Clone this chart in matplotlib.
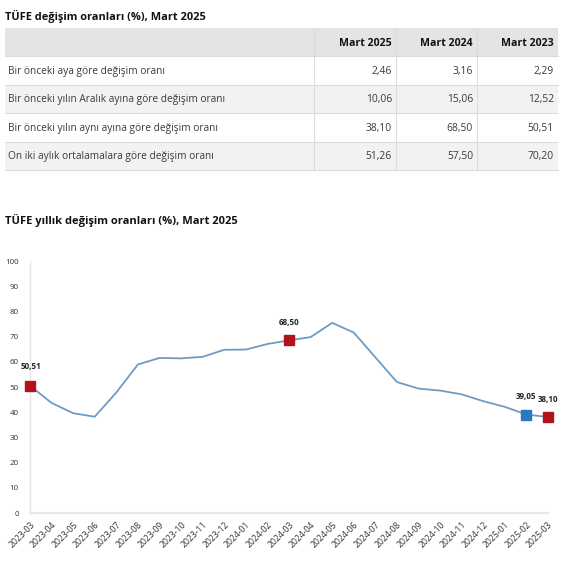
import matplotlib
matplotlib.use("Agg")
import matplotlib.pyplot as plt
from matplotlib.patches import Rectangle

plt.rcParams['font.family'] = ['Open Sans', 'DejaVu Sans']

# ---------------- data ----------------
table_title = "TÜFE değişim oranları (%), Mart 2025"
col_headers = ["Mart 2025", "Mart 2024", "Mart 2023"]
row_labels = [
    "Bir önceki aya göre değişim oranı",
    "Bir önceki yılın Aralık ayına göre değişim oranı",
    "Bir önceki yılın aynı ayına göre değişim oranı",
    "On iki aylık ortalamalara göre değişim oranı",
]
table_values = [
    ["2,46", "3,16", "2,29"],
    ["10,06", "15,06", "12,52"],
    ["38,10", "68,50", "50,51"],
    ["51,26", "57,50", "70,20"],
]

chart_title = "TÜFE yıllık değişim oranları (%), Mart 2025"
months = ["2023-03", "2023-04", "2023-05", "2023-06", "2023-07", "2023-08",
          "2023-09", "2023-10", "2023-11", "2023-12", "2024-01", "2024-02",
          "2024-03", "2024-04", "2024-05", "2024-06", "2024-07", "2024-08",
          "2024-09", "2024-10", "2024-11", "2024-12", "2025-01", "2025-02",
          "2025-03"]
annual = [50.51, 43.68, 39.59, 38.21, 47.83, 58.94, 61.53, 61.36, 61.98,
          64.77, 64.86, 67.07, 68.50, 69.80, 75.45, 71.60, 61.78, 51.97,
          49.38, 48.58, 47.09, 44.38, 42.12, 39.05, 38.10]
red_points = ["2023-03", "2024-03", "2025-03"]
blue_points = ["2025-02"]
y_ticks = [0, 10, 20, 30, 40, 50, 60, 70, 80, 90, 100]

# ---------------- figure ----------------
W = H = 570
fig = plt.figure(figsize=(W / 100, H / 100), dpi=100)
fig.patch.set_facecolor("white")

# overlay axes in pixel coordinates for the table and titles
ov = fig.add_axes([0, 0, 1, 1])
ov.set_xlim(0, W)
ov.set_ylim(H, 0)
ov.axis("off")

ov.text(5, 16, table_title, fontsize=7.9, fontweight="bold", va="center",
        ha="left", color="#111111")

tbl_left, tbl_right = 5, 558
col_edges = [tbl_left, 314, 396, 477, tbl_right]
header_top, header_bot = 28, 56
row_h = 28.5
row_bg = ["#ffffff", "#f2f2f2", "#ffffff", "#f2f2f2"]

ov.add_patch(Rectangle((tbl_left, header_top), tbl_right - tbl_left,
                       header_bot - header_top, facecolor="#e4e4e4",
                       edgecolor="none"))
for i in range(len(row_labels)):
    y0 = header_bot + i * row_h
    ov.add_patch(Rectangle((tbl_left, y0), tbl_right - tbl_left, row_h,
                           facecolor=row_bg[i], edgecolor="none"))
    ov.plot([tbl_left, tbl_right], [y0, y0], color="#dcdcdc", lw=0.8)
bottom = header_bot + len(row_labels) * row_h
ov.plot([tbl_left, tbl_right], [bottom, bottom], color="#dcdcdc", lw=0.8)
for xe in col_edges[1:-1]:
    ov.plot([xe, xe], [header_top, bottom], color="#dcdcdc", lw=0.8)

for j, h in enumerate(col_headers):
    ov.text(col_edges[j + 2] - 4, (header_top + header_bot) / 2 + 1, h,
            fontsize=7.6, fontweight="bold", ha="right", va="center",
            color="#111111")
for i, lab in enumerate(row_labels):
    yc = header_bot + i * row_h + row_h / 2 + 1
    ov.text(8, yc, lab, fontsize=7.3, ha="left", va="center", color="#3a3a3a")
    for j, v in enumerate(table_values[i]):
        ov.text(col_edges[j + 2] - 4, yc, v, fontsize=7.4, ha="right",
                va="center", color="#3a3a3a")

ov.text(5, 220, chart_title, fontsize=8.0, fontweight="bold", va="center",
        ha="left", color="#111111")

# ---------------- line chart ----------------
x0_px, x1_px = 30, 548
ytop_px, ybot_px = 261, 513
ax = fig.add_axes([x0_px / W, (H - ybot_px) / H, (x1_px - x0_px) / W,
                   (ybot_px - ytop_px) / H])
ax.set_facecolor("none")
x = list(range(len(months)))
ax.plot(x, annual, color="#6f9bc2", lw=1.3, zorder=2)

for m in red_points:
    i = months.index(m)
    ax.plot(i, annual[i], marker="s", ms=6.8, color="#b3121d", mec="#b3121d",
            ls="none", zorder=3, clip_on=False)
for m in blue_points:
    i = months.index(m)
    ax.plot(i, annual[i], marker="s", ms=6.8, color="#2b78c2", mec="#2b78c2",
            ls="none", zorder=3, clip_on=False)

def fmt(v):
    return f"{v:.2f}".replace(".", ",")

label_offsets = {"2023-03": (1, 19), "2024-03": (0, 18),
                 "2025-02": (0, 18), "2025-03": (0, 17)}
for m in red_points + blue_points:
    i = months.index(m)
    dx, dy = label_offsets[m]
    ax.annotate(fmt(annual[i]), (i, annual[i]), xytext=(dx, dy),
                textcoords="offset pixels", ha="center", va="center",
                fontsize=5.8, fontweight="bold", color="#222222",
                annotation_clip=False)

ax.set_xlim(0, len(months) - 1)
ax.set_ylim(0, 100)
ax.set_yticks(y_ticks)
ax.set_yticklabels([str(t) for t in y_ticks])
ax.set_xticks(x)
ax.set_xticklabels(months, rotation=45, ha="right", rotation_mode="anchor")
ax.tick_params(axis="y", length=0, labelsize=5.8, colors="#333333", pad=8)
ax.tick_params(axis="x", length=0, labelsize=6.2, colors="#333333", pad=5)
for s in ["top", "right"]:
    ax.spines[s].set_visible(False)
ax.spines["left"].set_color("#e6e6e6")
ax.spines["bottom"].set_color("#e6e6e6")
ax.spines["left"].set_linewidth(1.0)
ax.spines["bottom"].set_linewidth(1.5)

fig.savefig("out.png", dpi=100, facecolor="white")
